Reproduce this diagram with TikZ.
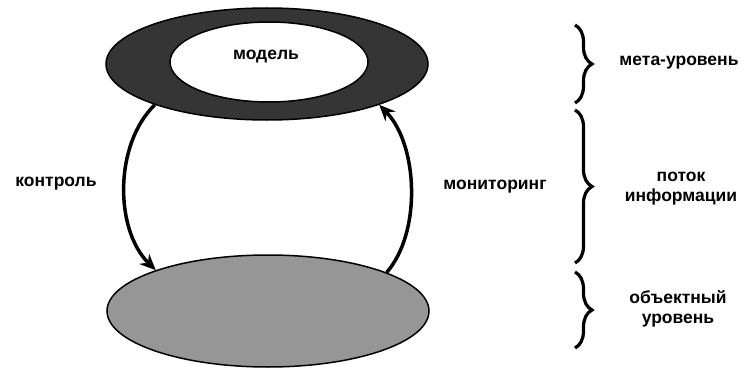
\documentclass[tikz,border=0pt]{standalone}
\usepackage{fontspec}
\setmainfont{Liberation Sans}
\usetikzlibrary{shapes.geometric,arrows.meta,decorations.pathreplacing}
\definecolor{darkfill}{HTML}{353535}
\definecolor{grayfill}{HTML}{969696}
\tikzset{
  lbl/.style={font=\fontsize{17.5}{20}\selectfont\bfseries, align=center, inner sep=0pt},
  ell/.style={ellipse, draw=black, line width=1.5pt, inner sep=0pt},
  flow/.style={line width=3.5pt, -{Stealth[length=16pt,width=14pt]}},
  brc/.style={line width=3.2pt, decorate, decoration={brace, amplitude=17pt}}
}
\begin{document}
\begin{tikzpicture}[x=1pt,y=-1pt]
\useasboundingbox (0,0) rectangle (745,369);
\node[ell, fill=darkfill, minimum width=322pt, minimum height=112pt] (meta) at (267,64) {};
\node[ell, fill=white, minimum width=198pt, minimum height=80pt] (model) at (269,62) {};
\node[lbl] (modeltxt) at (266,57) {модель};
\node[ell, fill=grayfill, minimum width=322pt, minimum height=112pt] (obj) at (268,311) {};
\draw[flow] (meta.200) .. controls +(-41,40) and +(-41,-40) .. (obj.160);
\draw[flow] (obj.18) .. controls +(35,-40) and +(39,40) .. (meta.340);
\node[lbl] (kontrol) at (56,184) {контроль};
\node[lbl] (monitor) at (495,187) {мониторинг};
\coordinate (b1s) at (575,25); \coordinate (b1e) at (575,103);
\coordinate (b2s) at (575,110); \coordinate (b2e) at (575,263);
\coordinate (b3s) at (575,272); \coordinate (b3e) at (575,348);
\draw[brc] (b1s) -- (b1e);
\draw[brc] (b2s) -- (b2e);
\draw[brc] (b3s) -- (b3e);
\node[lbl] (metalvl) at (679,63) {мета-уровень};
\node[lbl] (potok) at (681,189) {поток\\информации};
\node[lbl] (objlvl) at (678,309) {объектный\\уровень};
\end{tikzpicture}
\end{document}
